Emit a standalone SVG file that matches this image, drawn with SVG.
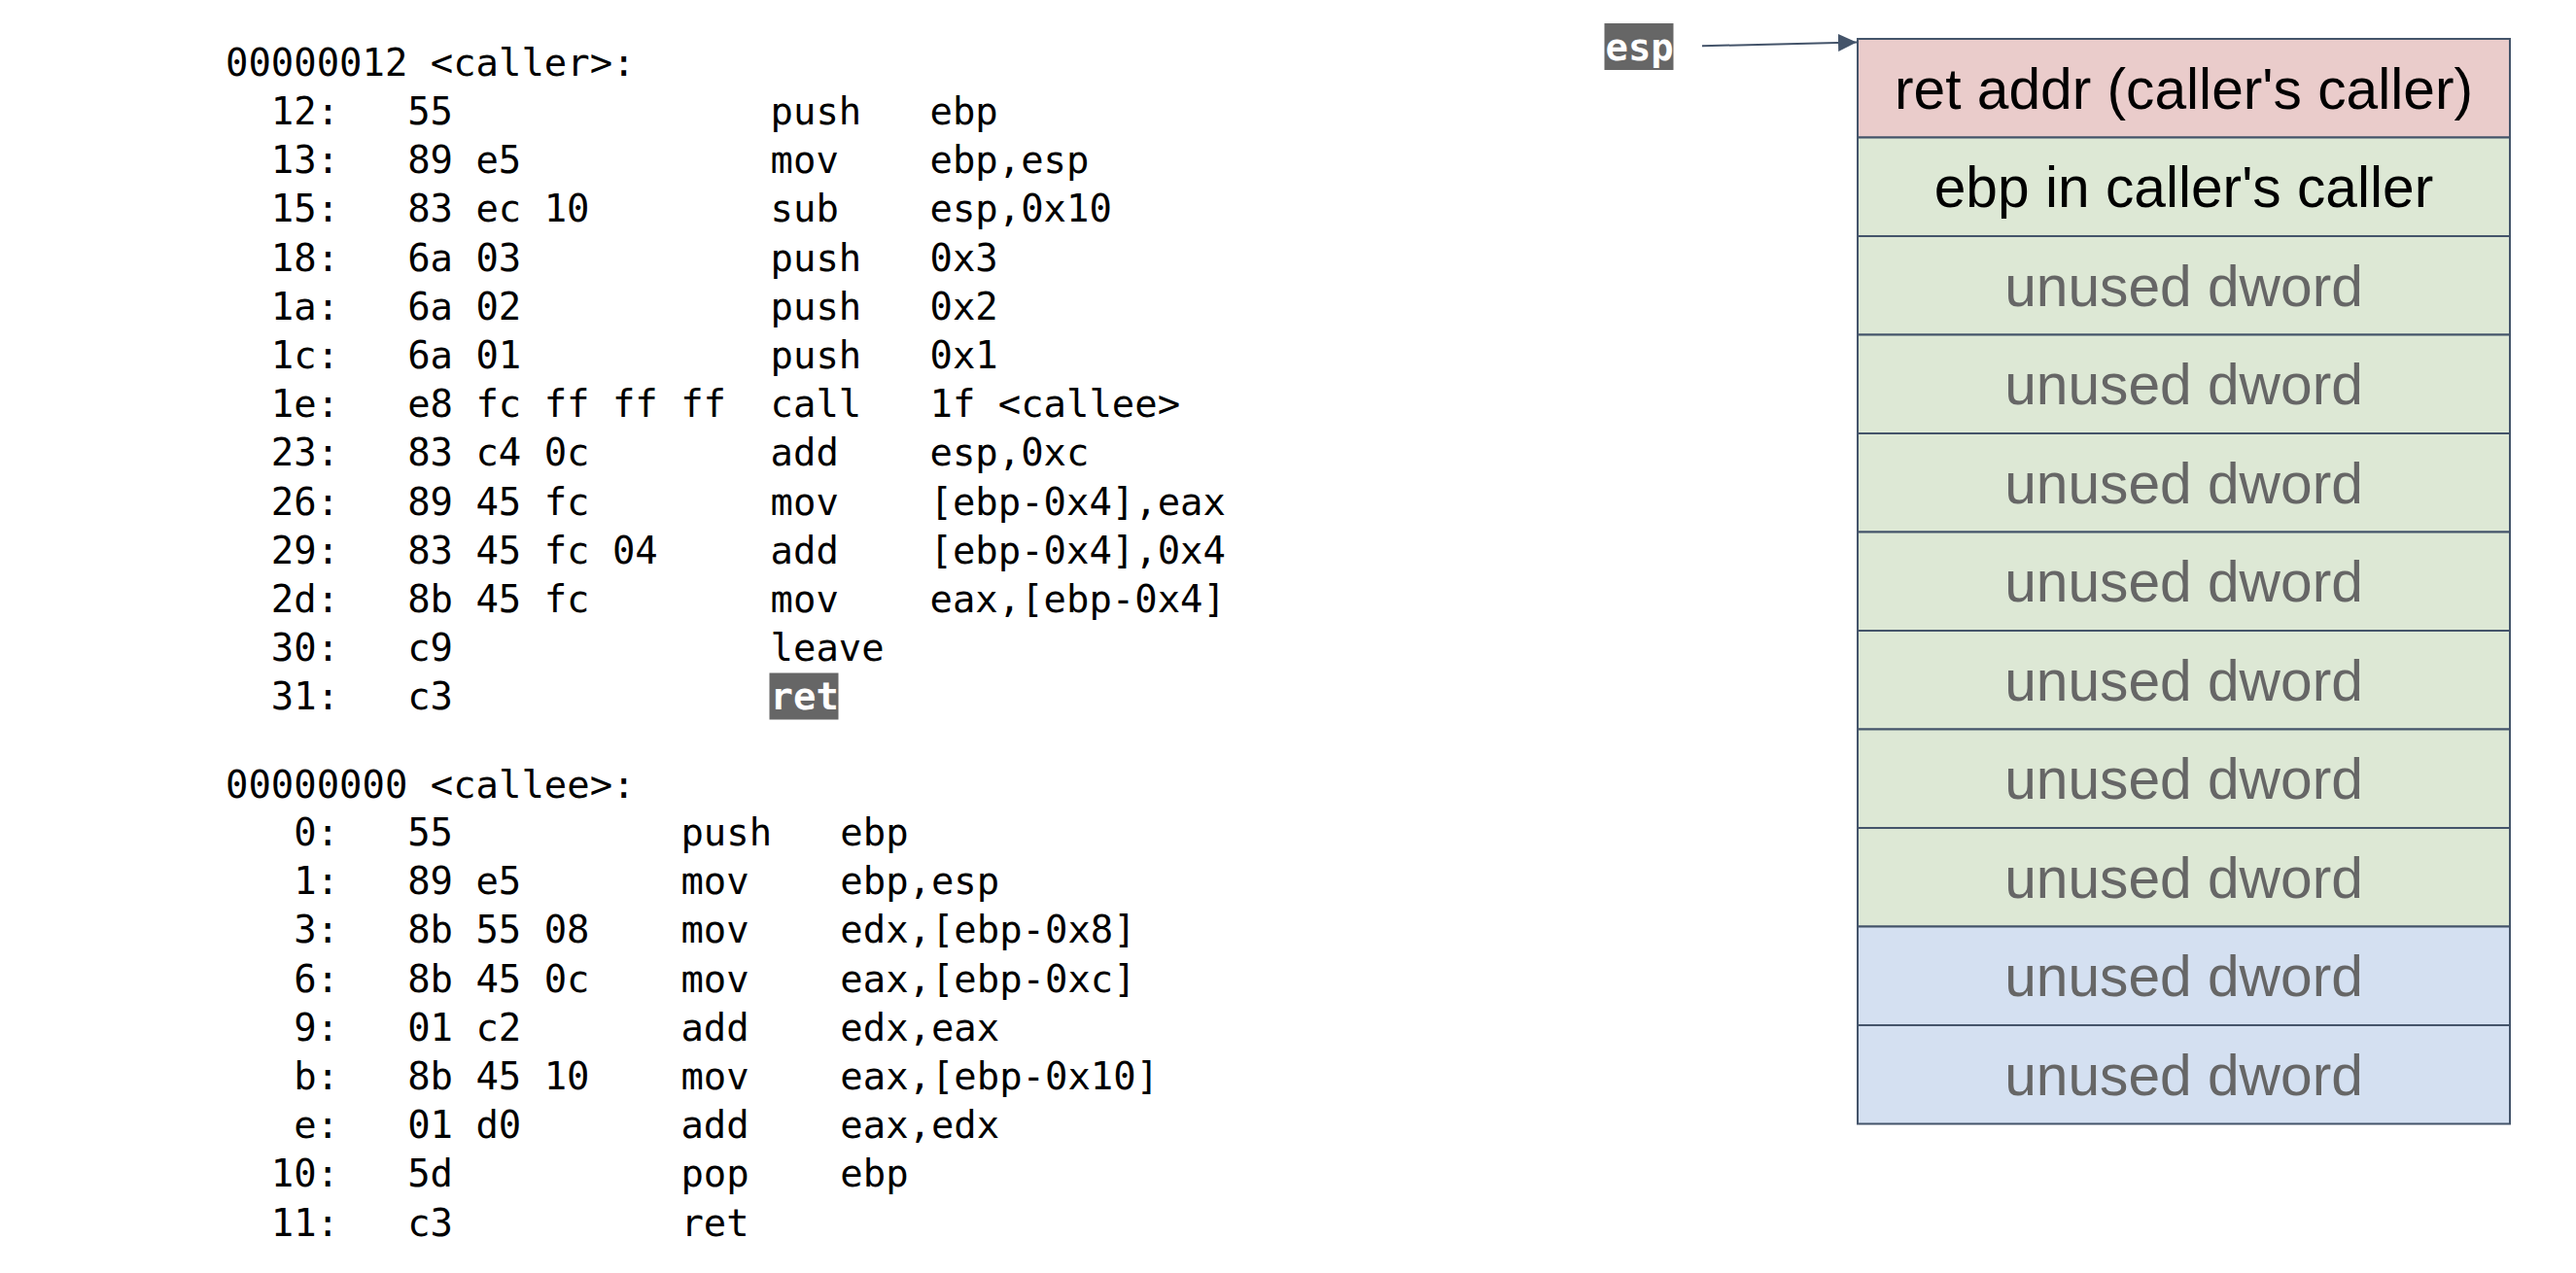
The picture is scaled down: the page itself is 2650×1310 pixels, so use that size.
<svg xmlns="http://www.w3.org/2000/svg" width="2650" height="1310" viewBox="0 0 2650 1310">
<style>
.code{font-family:"DejaVu Sans Mono","Liberation Mono",monospace;font-size:38.9px;fill:#000}
.hl{font-family:"DejaVu Sans Mono","Liberation Mono",monospace;font-size:38.9px;font-weight:bold;fill:#fff}
.hlbg{fill:#666666}
.cell{stroke:#44546a;stroke-width:2}
.red{fill:#eacccb}
.green{fill:#dde8d5}
.blue{fill:#d4e0f1}
.lbl{font-family:"Liberation Sans",Arial,sans-serif;font-size:58.7px;text-anchor:middle}
.dark{fill:#000}
.gray{fill:#666666}
.conn{stroke:#44546a;stroke-width:2;fill:none}
</style>
<defs>
<marker id="arr" markerWidth="19" markerHeight="18" refX="19" refY="9" orient="auto" markerUnits="userSpaceOnUse" viewBox="0 0 19 18">
<path d="M0,0 L19,9 L0,18 z" fill="#44546a"/>
</marker>
</defs>
<rect width="2650" height="1310" fill="#fff"/>

<g id="caller-listing" class="code">
<text x="232" y="78">00000012 &lt;caller&gt;:</text>
<text y="128"><tspan x="278.8">12:</tspan><tspan x="419.2">55</tspan><tspan x="792.6">push</tspan><tspan x="956.5">ebp</tspan></text>
<text y="178.2"><tspan x="278.8">13:</tspan><tspan x="419.2">89 e5</tspan><tspan x="792.6">mov</tspan><tspan x="956.5">ebp,esp</tspan></text>
<text y="228.4"><tspan x="278.8">15:</tspan><tspan x="419.2">83 ec 10</tspan><tspan x="792.6">sub</tspan><tspan x="956.5">esp,0x10</tspan></text>
<text y="278.6"><tspan x="278.8">18:</tspan><tspan x="419.2">6a 03</tspan><tspan x="792.6">push</tspan><tspan x="956.5">0x3</tspan></text>
<text y="328.8"><tspan x="278.8">1a:</tspan><tspan x="419.2">6a 02</tspan><tspan x="792.6">push</tspan><tspan x="956.5">0x2</tspan></text>
<text y="379"><tspan x="278.8">1c:</tspan><tspan x="419.2">6a 01</tspan><tspan x="792.6">push</tspan><tspan x="956.5">0x1</tspan></text>
<text y="429.2"><tspan x="278.8">1e:</tspan><tspan x="419.2">e8 fc ff ff ff</tspan><tspan x="792.6">call</tspan><tspan x="956.5">1f &lt;callee&gt;</tspan></text>
<text y="479.4"><tspan x="278.8">23:</tspan><tspan x="419.2">83 c4 0c</tspan><tspan x="792.6">add</tspan><tspan x="956.5">esp,0xc</tspan></text>
<text y="529.6"><tspan x="278.8">26:</tspan><tspan x="419.2">89 45 fc</tspan><tspan x="792.6">mov</tspan><tspan x="956.5">[ebp-0x4],eax</tspan></text>
<text y="579.8"><tspan x="278.8">29:</tspan><tspan x="419.2">83 45 fc 04</tspan><tspan x="792.6">add</tspan><tspan x="956.5">[ebp-0x4],0x4</tspan></text>
<text y="630"><tspan x="278.8">2d:</tspan><tspan x="419.2">8b 45 fc</tspan><tspan x="792.6">mov</tspan><tspan x="956.5">eax,[ebp-0x4]</tspan></text>
<text y="680.2"><tspan x="278.8">30:</tspan><tspan x="419.2">c9</tspan><tspan x="792.6">leave</tspan></text>
<text y="730.4"><tspan x="278.8">31:</tspan><tspan x="419.2">c3</tspan></text>
</g>
<g id="ret-highlight">
<rect class="hlbg" x="791.5" y="692.5" width="71" height="48"/>
<text class="hl" x="792.6" y="730.4">ret</text>
</g>

<g id="callee-listing" class="code">
<text x="232" y="821">00000000 &lt;callee&gt;:</text>
<text y="870"><tspan x="349" text-anchor="end">0:</tspan><tspan x="419.2">55</tspan><tspan x="700.4">push</tspan><tspan x="864.3">ebp</tspan></text>
<text y="920.2"><tspan x="349" text-anchor="end">1:</tspan><tspan x="419.2">89 e5</tspan><tspan x="700.4">mov</tspan><tspan x="864.3">ebp,esp</tspan></text>
<text y="970.4"><tspan x="349" text-anchor="end">3:</tspan><tspan x="419.2">8b 55 08</tspan><tspan x="700.4">mov</tspan><tspan x="864.3">edx,[ebp-0x8]</tspan></text>
<text y="1020.6"><tspan x="349" text-anchor="end">6:</tspan><tspan x="419.2">8b 45 0c</tspan><tspan x="700.4">mov</tspan><tspan x="864.3">eax,[ebp-0xc]</tspan></text>
<text y="1070.8"><tspan x="349" text-anchor="end">9:</tspan><tspan x="419.2">01 c2</tspan><tspan x="700.4">add</tspan><tspan x="864.3">edx,eax</tspan></text>
<text y="1121"><tspan x="349" text-anchor="end">b:</tspan><tspan x="419.2">8b 45 10</tspan><tspan x="700.4">mov</tspan><tspan x="864.3">eax,[ebp-0x10]</tspan></text>
<text y="1171.2"><tspan x="349" text-anchor="end">e:</tspan><tspan x="419.2">01 d0</tspan><tspan x="700.4">add</tspan><tspan x="864.3">eax,edx</tspan></text>
<text y="1221.4"><tspan x="349" text-anchor="end">10:</tspan><tspan x="419.2">5d</tspan><tspan x="700.4">pop</tspan><tspan x="864.3">ebp</tspan></text>
<text y="1271.6"><tspan x="349" text-anchor="end">11:</tspan><tspan x="419.2">c3</tspan><tspan x="700.4">ret</tspan></text>
</g>

<g id="esp-label">
<rect class="hlbg" x="1650.5" y="24" width="71" height="48"/>
<text class="hl" x="1651.5" y="61.5">esp</text>
</g>

<g id="stack">
<g id="slot-0"><rect class="cell red" x="1911" y="40" width="671" height="101.5"/><text class="lbl dark" x="2246.5" y="111.8">ret addr (caller's caller)</text></g>
<g id="slot-1"><rect class="cell green" x="1911" y="141.5" width="671" height="101.5"/><text class="lbl dark" x="2246.5" y="213.3">ebp in caller's caller</text></g>
<g id="slot-2"><rect class="cell green" x="1911" y="243" width="671" height="101.5"/><text class="lbl gray" x="2246.5" y="314.8">unused dword</text></g>
<g id="slot-3"><rect class="cell green" x="1911" y="344.5" width="671" height="101.5"/><text class="lbl gray" x="2246.5" y="416.3">unused dword</text></g>
<g id="slot-4"><rect class="cell green" x="1911" y="446" width="671" height="101.5"/><text class="lbl gray" x="2246.5" y="517.8">unused dword</text></g>
<g id="slot-5"><rect class="cell green" x="1911" y="547.5" width="671" height="101.5"/><text class="lbl gray" x="2246.5" y="619.3">unused dword</text></g>
<g id="slot-6"><rect class="cell green" x="1911" y="649" width="671" height="101.5"/><text class="lbl gray" x="2246.5" y="720.8">unused dword</text></g>
<g id="slot-7"><rect class="cell green" x="1911" y="750.5" width="671" height="101.5"/><text class="lbl gray" x="2246.5" y="822.3">unused dword</text></g>
<g id="slot-8"><rect class="cell green" x="1911" y="852" width="671" height="101.5"/><text class="lbl gray" x="2246.5" y="923.8">unused dword</text></g>
<g id="slot-9"><rect class="cell blue" x="1911" y="953.5" width="671" height="101.5"/><text class="lbl gray" x="2246.5" y="1025.3">unused dword</text></g>
<g id="slot-10"><rect class="cell blue" x="1911" y="1055" width="671" height="101.5"/><text class="lbl gray" x="2246.5" y="1126.8">unused dword</text></g>
</g>

<g id="connectors">
<path class="conn" d="M1751,47.3 L1910,43.5" marker-end="url(#arr)"/>
</g>
</svg>
